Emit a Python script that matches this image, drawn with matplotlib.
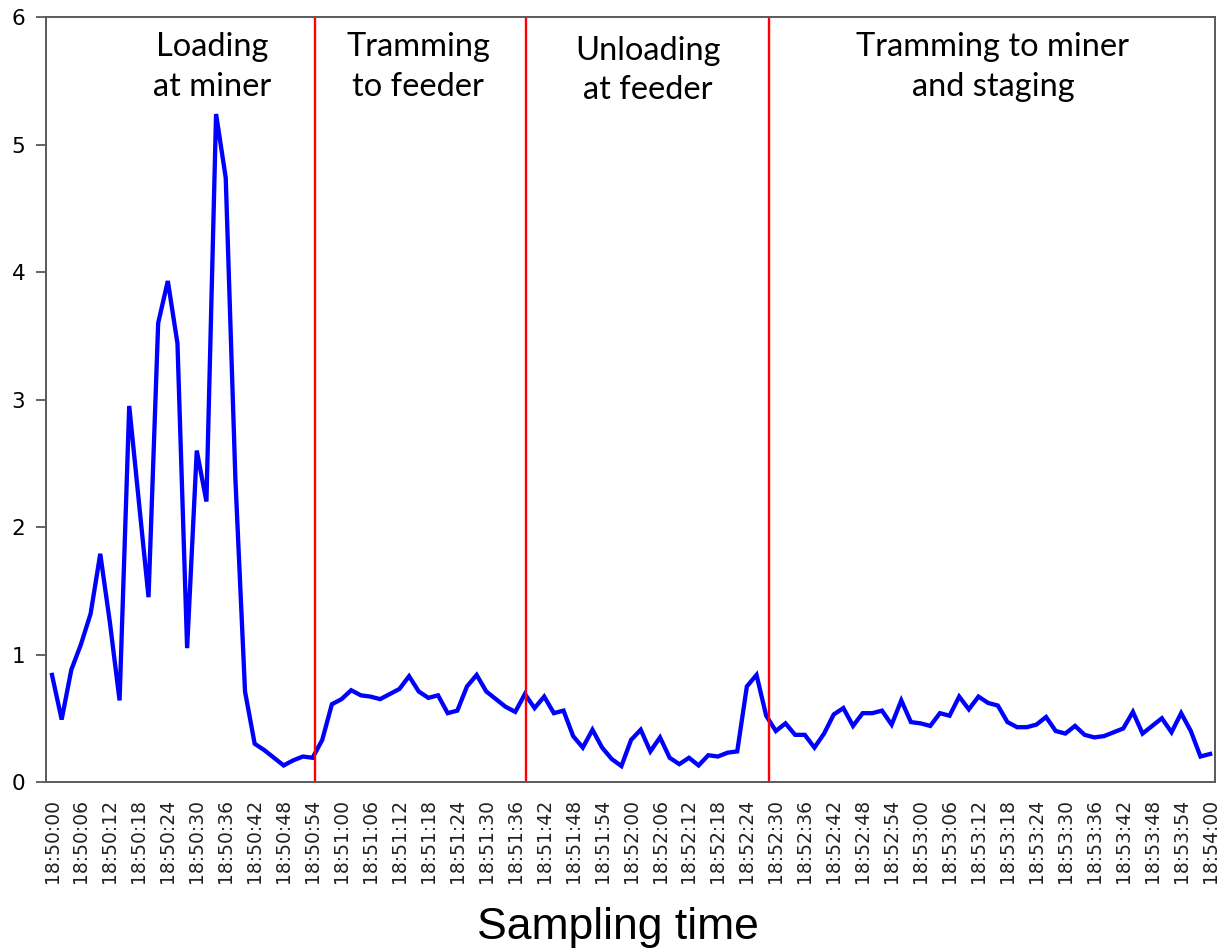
import matplotlib
matplotlib.use('Agg')
import matplotlib.pyplot as plt

# sampling every 2 s from 18:50:00
seconds = list(range(0, 241, 2))
values = [0.84, 0.49, 0.88, 1.08, 1.32, 1.79, 1.25, 0.64, 2.95, 2.20,
          1.45, 3.60, 3.93, 3.44, 1.05, 2.60, 2.20, 5.24, 4.74, 2.38,
          0.71, 0.30, 0.25, 0.19, 0.13, 0.17, 0.20, 0.19, 0.33, 0.61,
          0.65, 0.72, 0.68, 0.67, 0.65, 0.69, 0.73, 0.83, 0.71, 0.66,
          0.68, 0.54, 0.56, 0.75, 0.84, 0.71, 0.65, 0.59, 0.55, 0.69,
          0.58, 0.67, 0.54, 0.56, 0.36, 0.27, 0.41, 0.27, 0.18, 0.125,
          0.33, 0.41, 0.24, 0.35, 0.19, 0.14, 0.19, 0.13, 0.21, 0.20,
          0.23, 0.24, 0.75, 0.84, 0.52, 0.40, 0.46, 0.37, 0.37, 0.27,
          0.38, 0.53, 0.58, 0.44, 0.54, 0.54, 0.56, 0.45, 0.64, 0.47,
          0.46, 0.44, 0.54, 0.52, 0.67, 0.57, 0.67, 0.62, 0.60, 0.47,
          0.43, 0.43, 0.45, 0.51, 0.40, 0.38, 0.44, 0.37, 0.35, 0.36,
          0.39, 0.42, 0.55, 0.38, 0.44, 0.50, 0.39, 0.54, 0.40, 0.20,
          0.22]

tick_secs = list(range(0, 241, 6))
tick_labels = ['18:%02d:%02d' % (50 + s // 60, s % 60) for s in tick_secs]

# phase boundaries (seconds after 18:50:00) and phase names
boundaries = [54.6, 98.3, 148.6]
phases = ['Loading\nat miner', 'Tramming\nto feeder', 'Unloading\nat feeder',
          'Tramming to miner\nand staging']
phase_x = [33.2, 75.9, 123.5, 195.0]
phase_y = [5.61, 5.61, 5.58, 5.61]

fig = plt.figure(figsize=(12.24, 9.51), dpi=100)
ax = fig.add_axes([0.0376, 0.1777, 0.955, 0.8043])

ax.plot(seconds, values, color='#0000ff', lw=3.1, solid_joinstyle='miter')
for b in boundaries:
    ax.axvline(b, color='#ff0000', lw=1.7)

for t, x, y in zip(phases, phase_x, phase_y):
    ax.text(x, y, t, ha='center', va='center', fontsize=23.5, family='Lato',
            linespacing=1.4)

ax.set_xlim(-1.24, 241.0)
ax.set_ylim(0, 6)
ax.set_yticks(range(7))
ax.set_xticks(tick_secs)
ax.set_xticklabels(tick_labels, rotation=90, fontsize=13.5, color='#222222')
ax.tick_params(axis='x', length=0, pad=12)
ax.tick_params(axis='y', length=7, width=1.3, color='#595959', labelsize=15.5, pad=8)

for s in ax.spines.values():
    s.set_color('#595959')
    s.set_linewidth(1.4)

ax.set_xlabel('Sampling time', fontsize=32, family='Liberation Sans', va='center')
ax.xaxis.set_label_coords(0.489, -0.190)

fig.savefig('out.png', dpi=100)
